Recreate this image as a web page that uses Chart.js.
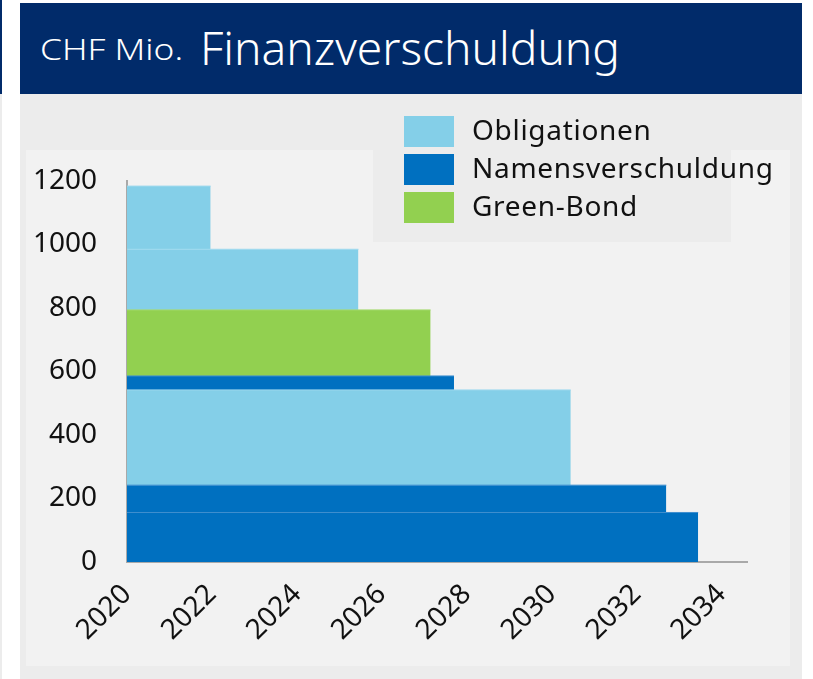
<!DOCTYPE html>
<html>
<head>
<meta charset="utf-8">
<script src="https://cdn.jsdelivr.net/npm/chart.js@4/dist/chart.umd.min.js"></script>
<style>
  html, body { margin:0; padding:0; background:#ffffff; }
  body { width:813px; height:679px; position:relative; overflow:hidden; font-family:"Noto Sans", sans-serif; }
  #strip { position:absolute; left:0; top:0; width:2px; height:94px; background:#012b6a; }
  #strip2 { position:absolute; left:0; top:94px; width:2px; height:585px; background:#ececec; }
  #header { position:absolute; left:20px; top:3px; width:782px; height:91px; background:#012b6a; color:#fff; }
  #t1 { position:absolute; left:20px; top:31px; font-size:30px; line-height:1; white-space:nowrap; transform-origin:0 0; font-weight:300; }
  #t2 { position:absolute; left:180px; top:22px; font-size:45px; line-height:1; white-space:nowrap; transform-origin:0 0; font-weight:300; }
  #outer { position:absolute; left:20px; top:94px; width:782px; height:585px; background:#ececec; }
  #inner { position:absolute; left:26px; top:150px; width:764px; height:516px; background:#f2f2f2; }
  #legendBox { position:absolute; left:373px; top:94px; width:358px; height:148px; background:#ececec; }
  #legend { position:absolute; left:404px; top:114px; }
  .li { position:relative; height:38px; }
  .sw { position:absolute; left:0; top:2px; width:50px; height:31px; }
  .lt { position:absolute; left:68px; top:-4px; font-size:28px; color:#111; white-space:nowrap; letter-spacing:0.7px; }
  #c { position:absolute; left:0; top:0; }
</style>
</head>
<body>
<div id="strip"></div><div id="strip2"></div>
<div id="header"><span id="t1">CHF Mio.</span><span id="t2">Finanzverschuldung</span></div>
<div id="outer"></div>
<div id="inner"></div>
<div id="legendBox"></div>
<canvas id="c" width="813" height="679"></canvas>
<div id="legend"></div>
<script>
// ---- data ----
const seriesNames = ['Obligationen', 'Namensverschuldung', 'Green-Bond'];
// tranches stacked from bottom to top
const trancheSeries   = ['Namensverschuldung', 'Namensverschuldung', 'Obligationen', 'Namensverschuldung', 'Green-Bond', 'Obligationen', 'Obligationen'];
const trancheAmount   = [156, 86, 300, 44, 208, 191, 199];          // CHF Mio.
const trancheMaturity = [2033.45, 2032.7, 2030.45, 2027.7, 2027.15, 2025.45, 2021.97];
const startYear = 2020;
const xTickYears = [2020, 2022, 2024, 2026, 2028, 2030, 2032, 2034];
const yTickValues = [0, 200, 400, 600, 800, 1000, 1200];

// ---- styles ----
const seriesColors = { 'Obligationen': '#84cfe8', 'Namensverschuldung': '#0070c0', 'Green-Bond': '#92d050' };
const edgeColors   = { 'Obligationen': '#9fd9ee', 'Namensverschuldung': '#3f8fcf', 'Green-Bond': '#a6da70' };

// legend
const lg = document.getElementById('legend');
seriesNames.forEach(n => {
  const d = document.createElement('div'); d.className = 'li';
  d.innerHTML = '<div class="sw" style="background:' + seriesColors[n] + '"></div><div class="lt">' + n + '</div>';
  lg.appendChild(d);
});

// fit title widths
function fitW(el, w) { const r = el.getBoundingClientRect().width; el.style.transform = 'scaleX(' + (w / r) + ')'; }
fitW(document.getElementById('t1'), 143);
fitW(document.getElementById('t2'), 420);

// build datasets (each tranche is a band from its base to its top, from startYear to maturity)
let base = 0;
const datasets = trancheAmount.map((amt, i) => {
  const top = base + amt;
  const ds = {
    label: trancheSeries[i],
    data: [{ x: startYear, y: top }, { x: trancheMaturity[i], y: top }],
    fill: { target: { value: base } },
    backgroundColor: seriesColors[trancheSeries[i]],
    borderColor: edgeColors[trancheSeries[i]],
    borderWidth: 1,
    pointRadius: 0,
    tension: 0
  };
  base = top;
  return ds;
});

const tickFont = { family: 'Noto Sans', size: 28 };
new Chart(document.getElementById('c'), {
  type: 'line',
  data: { datasets },
  options: {
    responsive: false,
    animation: false,
    layout: { padding: { left: 0, top: 181, right: 66, bottom: 17 } },
    plugins: { legend: { display: false }, tooltip: { enabled: false } },
    scales: {
      x: {
        type: 'linear', min: 2020, max: 2034.6, z: 1,
        grid: { display: false, drawTicks: false },
        border: { display: true, color: '#a9a9a9', width: 2 },
        afterBuildTicks: s => { s.ticks = xTickYears.map(v => ({ value: v })); },
        afterFit: s => { s.height = 100; },
        ticks: { font: tickFont, color: '#111', minRotation: 45, maxRotation: 45, padding: 16, autoSkip: false,
                 callback: v => String(v) }
      },
      y: {
        type: 'linear', min: 0, max: 1200, z: 1,
        grid: { display: false, drawTicks: false },
        border: { display: true, color: '#a9a9a9', width: 2 },
        afterBuildTicks: s => { s.ticks = yTickValues.map(v => ({ value: v })); },
        afterFit: s => { s.width = 127; },
        ticks: { font: tickFont, color: '#111', padding: 30, callback: v => String(v) }
      }
    }
  }
});
</script>
</body>
</html>
